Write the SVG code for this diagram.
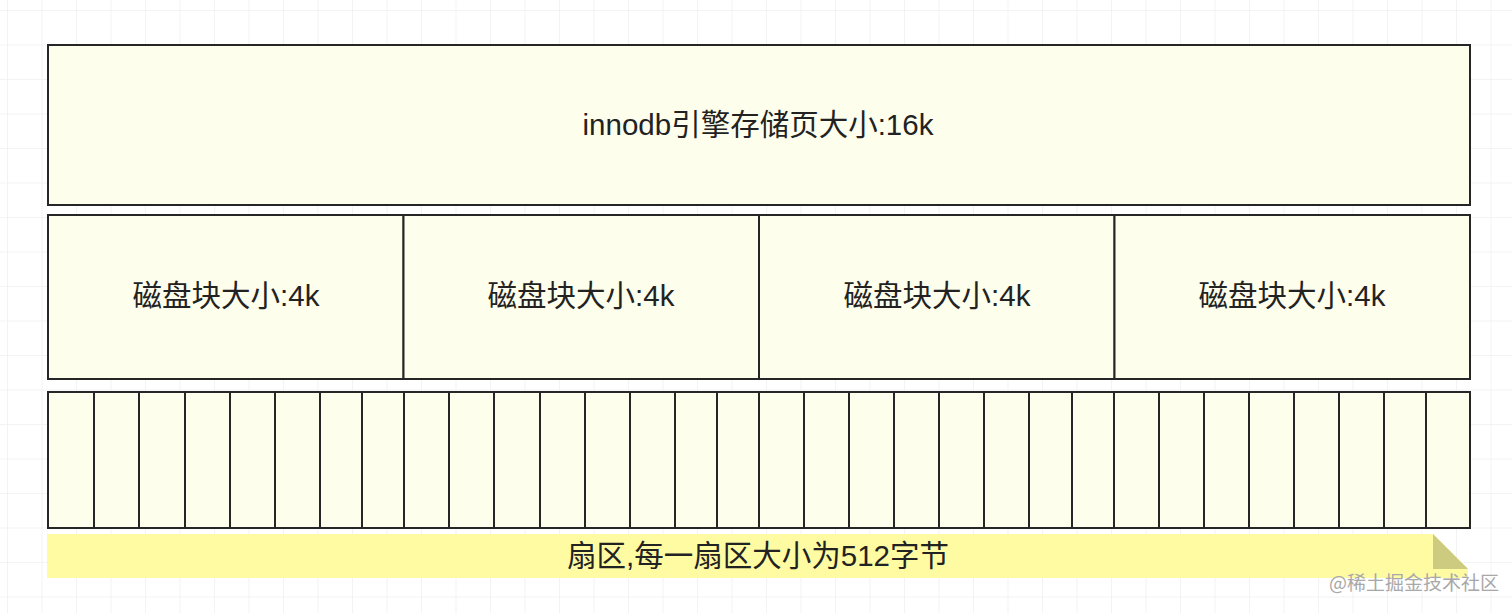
<svg xmlns="http://www.w3.org/2000/svg" width="1512" height="613" viewBox="0 0 1512 613">
<style>
.box{fill:#fefeec;stroke:#262626;stroke-width:2}
.t{font-family:"Liberation Sans","Noto Sans CJK SC",sans-serif;font-size:29.5px;fill:#222;text-anchor:middle}
.wm{font-family:"Noto Sans CJK SC",sans-serif;font-size:19px;fill:#a8a8a8;text-anchor:middle}
</style>
<defs>
<pattern id="grid" x="7" y="10" width="34.5" height="34.5" patternUnits="userSpaceOnUse">
<path d="M0 0V34.5M0 0H34.5" fill="none" stroke="#f0f0f0" stroke-width="1.5"/>
</pattern>
</defs>
<rect width="1512" height="613" fill="#ffffff"/>
<rect width="1512" height="613" fill="url(#grid)"/>
<g id="page">
<rect class="box" x="48" y="45" width="1422" height="160"/>
<text class="t" x="758" y="135">innodb引擎存储页大小:16k</text>
</g>
<g id="block1">
<rect class="box" x="48" y="215" width="355.5" height="164"/>
<text class="t" x="226" y="306">磁盘块大小:4k</text>
</g>
<g id="block2">
<rect class="box" x="403.5" y="215" width="355.5" height="164"/>
<text class="t" x="581" y="306">磁盘块大小:4k</text>
</g>
<g id="block3">
<rect class="box" x="759" y="215" width="355.5" height="164"/>
<text class="t" x="937" y="306">磁盘块大小:4k</text>
</g>
<g id="block4">
<rect class="box" x="1114.5" y="215" width="355.5" height="164"/>
<text class="t" x="1292" y="306">磁盘块大小:4k</text>
</g>
<g id="sectors">
<rect class="box" x="48" y="392" width="1422" height="136"/>
<path d="M94 392V528M139 392V528M185 392V528M230 392V528M275 392V528M320 392V528M362 392V528M404 392V528M449 392V528M494 392V528M540 392V528M585 392V528M630 392V528M675 392V528M717 392V528M759 392V528M804 392V528M849 392V528M894 392V528M939 392V528M984 392V528M1029 392V528M1072 392V528M1114 392V528M1159 392V528M1204 392V528M1249 392V528M1294 392V528M1339 392V528M1384 392V528M1426 392V528" stroke="#262626" stroke-width="2" fill="none"/>
</g>
<g id="sector-label">
<polygon points="47,534 1433,534 1468,569 1468,578 47,578" fill="#fffba2"/>
<polygon points="1433,534 1468,569 1433,569" fill="#cccb80"/>
<text class="t" x="758" y="566">扇区,每一扇区大小为512字节</text>
</g>
<g id="connectors"/>
<text class="wm" x="1414" y="590">@稀土掘金技术社区</text>
</svg>
